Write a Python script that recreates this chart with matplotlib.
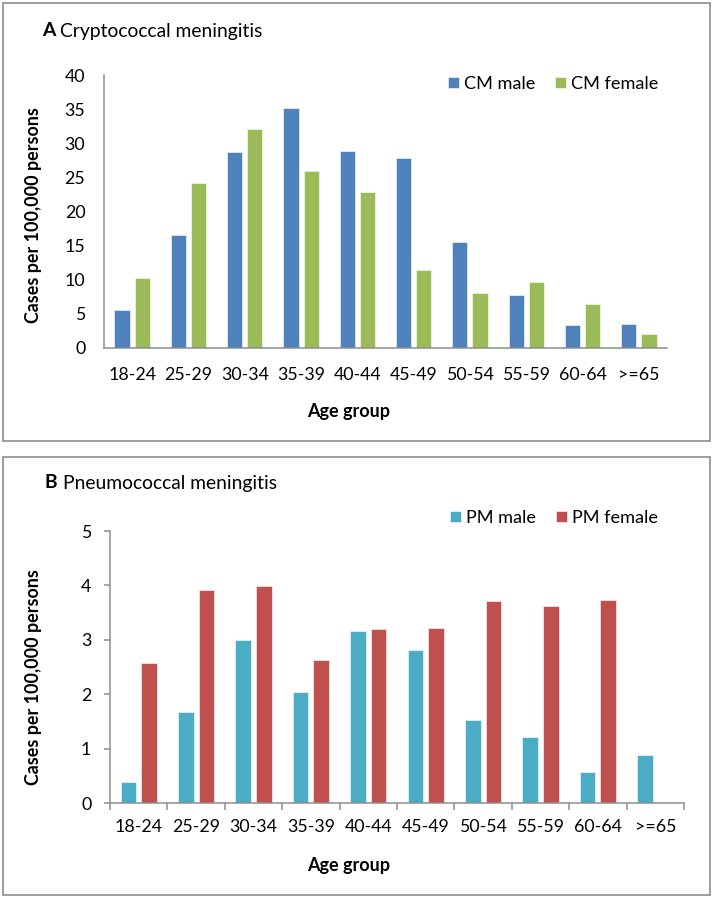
import matplotlib
matplotlib.use("Agg")
import matplotlib.pyplot as plt
from matplotlib.patches import Rectangle
import numpy as np

plt.rcParams['font.family'] = ['Lato', 'DejaVu Sans']

age_groups = ["18-24", "25-29", "30-34", "35-39", "40-44", "45-49",
              "50-54", "55-59", "60-64", ">=65"]
cm_male = [5.6, 16.5, 28.7, 35.1, 28.8, 27.8, 15.6, 7.7, 3.4, 3.5]
cm_female = [10.3, 24.2, 32.1, 25.9, 22.9, 11.5, 8.0, 9.6, 6.4, 2.05]
pm_male = [0.38, 1.68, 2.99, 2.04, 3.17, 2.82, 1.53, 1.21, 0.57, 0.88]
pm_female = [2.57, 3.92, 3.99, 2.62, 3.19, 3.22, 3.71, 3.63, 3.74, 0.0]

W, H = 714, 899
fig = plt.figure(figsize=(W / 100, H / 100), dpi=100)
fig.patch.set_facecolor("white")
renderer = fig.canvas.get_renderer()


def fx(px):
    return px / W


def fy(py):
    return 1 - py / H


def text_w(s, size=10, weight="normal"):
    t = fig.text(0, 0, s, fontsize=size, fontweight=weight)
    w = t.get_window_extent(renderer).width
    t.remove()
    return w


def fit(s, target, weight="normal"):
    return 10 * target / text_w(s, 10, weight)


def frame(x0, y0, x1, y1):
    r = Rectangle((fx(x0), fy(y1)), fx(x1) - fx(x0), fy(y0) - fy(y1),
                  transform=fig.transFigure, fill=False, edgecolor="#8c8c8c",
                  linewidth=1.2)
    fig.patches.append(r)


frame(3, 3, 710, 441)
frame(3, 457, 710, 895)

AX_COL = "#8e8e8e"
TICK_FS = fit("18-24", 46)
YT_FS = fit("40", 20)
TICK_FS = max(TICK_FS, YT_FS) * 1.03
LEG_FS = fit("CM male", 71)
YLAB_FS = fit("Cases per 100,000 persons", 216, "bold")
XLAB_FS = fit("Age group", 83, "bold")
bw = 0.27
off = 0.18
x = np.arange(len(age_groups))


def title(x0, x1, yc, bold, rest):
    wa = text_w(bold, 10, "bold")
    wr = text_w(rest, 10)
    sp = text_w("a a", 10) - text_w("aa", 10)
    size = 10 * (x1 - x0) / (wa + wr + sp)
    k = size / 10
    fig.text(fx(x0), fy(yc), bold, fontsize=size, fontweight="bold", ha="left", va="center")
    fig.text(fx(x0 + (wa + sp) * k), fy(yc), rest, fontsize=size, ha="left", va="center")


def make_panel(axpos, male, female, cm, cf, lm, lf, ymax, ystep, xticks_marks,
               title_bold, title_rest, title_span, ylab_xy, xlab_xy, leg_xy):
    l, t, r, b = axpos
    ax = fig.add_axes([fx(l), fy(b), fx(r) - fx(l), fy(t) - fy(b)])
    h1 = ax.bar(x - off, male, width=bw, color=cm, edgecolor="white", linewidth=0.4, label=lm)
    h2 = ax.bar(x + off, female, width=bw, color=cf, edgecolor="white", linewidth=0.4, label=lf)
    ax.set_xlim(-0.5, len(age_groups) - 0.5)
    ax.set_ylim(0, ymax)
    yt = np.arange(0, ymax + 0.001, ystep)
    ax.set_yticks(yt)
    ax.set_yticklabels([str(int(v)) for v in yt], fontsize=TICK_FS)
    for s in ["top", "right"]:
        ax.spines[s].set_visible(False)
    for s in ["left", "bottom"]:
        ax.spines[s].set_color(AX_COL)
        ax.spines[s].set_linewidth(1.1)
    if xticks_marks:
        ax.set_xticks(np.arange(-0.5, len(age_groups), 1.0))
        ax.set_xticklabels([])
        ax.set_xticks(x, minor=True)
        ax.set_xticklabels(age_groups, minor=True, fontsize=TICK_FS)
        ax.tick_params(axis="x", which="major", length=5, color=AX_COL, width=1.1)
        ax.tick_params(axis="x", which="minor", length=0, pad=11.5)
        ax.tick_params(axis="y", length=4, color=AX_COL, width=1.1, pad=9.5)
    else:
        ax.set_xticks(x)
        ax.set_xticklabels(age_groups, fontsize=TICK_FS)
        ax.tick_params(axis="x", length=0, pad=13.5)
        ax.tick_params(axis="y", length=0, pad=13.5)
    title(title_span[0], title_span[1], title_span[2], title_bold, title_rest)
    fig.text(fx(ylab_xy[0]), fy(ylab_xy[1]), "Cases per 100,000 persons", fontsize=YLAB_FS,
             fontweight="bold", rotation=90, ha="center", va="center")
    fig.text(fx(xlab_xy[0]), fy(xlab_xy[1]), "Age group", fontsize=XLAB_FS,
             fontweight="bold", ha="center", va="center")
    fpx = LEG_FS * 100 / 72
    fig.legend(handles=[h1, h2], labels=[lm, lf], loc="center left",
               bbox_to_anchor=(fx(leg_xy[0]), fy(leg_xy[1])), frameon=False,
               fontsize=LEG_FS, ncol=2, handlelength=11 / fpx, handleheight=11 / fpx,
               handletextpad=5 / fpx, columnspacing=20 / fpx, borderpad=0, borderaxespad=0)
    return ax


make_panel((104, 75, 667, 348), cm_male, cm_female, "#4F81BD", "#9BBB59",
           "CM male", "CM female", 40, 5, False,
           "A", "Cryptococcal meningitis", (42, 263, 31), (34, 215), (349, 412), (448, 84))

make_panel((110, 531, 684, 803), pm_male, pm_female, "#4BACC6", "#C0504D",
           "PM male", "PM female", 5, 1, True,
           "B", "Pneumococcal meningitis", (45, 277, 483), (34, 677), (349, 866), (450, 518))

fig.savefig("out.png", dpi=100)
